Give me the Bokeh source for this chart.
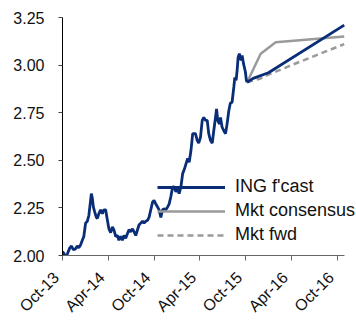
import math
import pandas as pd
from bokeh.plotting import figure
from bokeh.models import FixedTicker, Legend, LegendItem, Range1d, NumeralTickFormatter
from bokeh.embed import file_html
from bokeh.resources import INLINE

hist_dates = [
 "2013-10-01","2013-10-07","2013-10-13","2013-10-21","2013-10-30","2013-11-06","2013-11-13","2013-11-22",
 "2013-11-29","2013-12-05","2013-12-12","2013-12-19","2013-12-25","2014-01-01","2014-01-08","2014-01-14",
 "2014-01-18","2014-01-24","2014-01-28","2014-02-01","2014-02-06","2014-02-13","2014-02-17","2014-02-23",
 "2014-03-02","2014-03-09","2014-03-15","2014-03-22","2014-03-29","2014-04-04","2014-04-11","2014-04-18",
 "2014-04-24","2014-05-01","2014-05-08","2014-05-14","2014-05-21","2014-05-28","2014-06-03","2014-06-10",
 "2014-06-17","2014-06-23","2014-06-30","2014-07-07","2014-07-13","2014-07-20","2014-07-27","2014-08-02",
 "2014-08-09","2014-08-16","2014-08-22","2014-08-29","2014-09-05","2014-09-11","2014-09-18","2014-09-25",
 "2014-10-01","2014-10-08","2014-10-15","2014-10-21","2014-10-28","2014-11-04","2014-11-10","2014-11-17",
 "2014-11-24","2014-11-30","2014-12-07","2014-12-14","2014-12-20","2014-12-27","2015-01-03","2015-01-09",
 "2015-01-16","2015-01-23","2015-01-29","2015-02-05","2015-02-12","2015-02-18","2015-02-25","2015-03-04",
 "2015-03-10","2015-03-15","2015-03-22","2015-03-28","2015-04-04","2015-04-11","2015-04-17","2015-04-24",
 "2015-05-01","2015-05-07","2015-05-14","2015-05-21","2015-05-27","2015-06-03","2015-06-07","2015-06-12",
 "2015-06-19","2015-06-23","2015-06-29","2015-07-06","2015-07-13","2015-07-19","2015-07-26","2015-08-01",
 "2015-08-08","2015-08-15","2015-08-19","2015-08-24","2015-08-28","2015-09-01","2015-09-06","2015-09-13",
 "2015-09-17","2015-09-23","2015-09-30","2015-10-04","2015-10-07"]
hist_vals = [
 2.02,2.01,1.99,2.01,2.04,2.05,2.03,2.035,
 2.05,2.04,2.055,2.08,2.10,2.17,2.18,2.21,
 2.255,2.325,2.30,2.255,2.23,2.20,2.195,2.22,
 2.24,2.22,2.24,2.24,2.185,2.14,2.12,2.15,
 2.135,2.10,2.105,2.08,2.10,2.08,2.105,2.09,
 2.115,2.135,2.125,2.14,2.125,2.105,2.135,2.16,
 2.17,2.18,2.17,2.18,2.185,2.20,2.24,2.28,
 2.29,2.27,2.255,2.24,2.20,2.24,2.245,2.24,
 2.255,2.27,2.31,2.36,2.36,2.335,2.35,2.325,
 2.36,2.43,2.45,2.48,2.51,2.49,2.55,2.64,
 2.64,2.64,2.605,2.59,2.62,2.71,2.725,2.71,
 2.71,2.64,2.605,2.59,2.655,2.725,2.77,2.71,
 2.69,2.725,2.675,2.655,2.64,2.69,2.76,2.80,
 2.805,2.885,2.935,2.92,2.97,3.04,3.06,3.025,
 3.05,3.005,2.965,2.92,2.91]

ing_dates = ["2015-10-07", "2015-10-31", "2015-12-31", "2016-10-28"]
ing_vals = [2.91, 2.93, 2.96, 3.21]

cons_dates = ["2015-10-07", "2015-11-30", "2016-01-29", "2016-10-28"]
cons_vals = [2.91, 3.06, 3.12, 3.15]

fwd_dates = ["2015-10-07", "2015-11-30", "2015-12-31", "2016-04-01", "2016-10-28"]
fwd_vals = [2.91, 2.93, 2.95, 3.00, 3.11]

tick_dates = ["2013-10-01", "2014-04-01", "2014-10-01", "2015-04-01", "2015-10-01", "2016-04-01", "2016-10-01"]
tick_labels = ["Oct-13", "Apr-14", "Oct-14", "Apr-15", "Oct-15", "Apr-16", "Oct-16"]
y_ticks = [2.00, 2.25, 2.50, 2.75, 3.00, 3.25]

BLUE = "#0a2d78"
GREY = "#9a9a9a"
FONT = "Liberation Sans"

p = figure(width=356, height=334, x_axis_type="datetime", output_backend="svg",
           toolbar_location=None, min_border_left=62, min_border_right=0,
           min_border_top=17, min_border_bottom=79)
p.x_range = Range1d(pd.Timestamp("2013-10-01"), pd.Timestamp("2016-12-16"))
p.y_range = Range1d(2.0, 3.25)
p.outline_line_color = None
p.grid.visible = False
p.background_fill_color = "white"
p.border_fill_color = "white"

r_cons = p.line(pd.to_datetime(cons_dates), cons_vals, line_color=GREY, line_width=2.5)
r_fwd = p.line(pd.to_datetime(fwd_dates), fwd_vals, line_color=GREY, line_width=2.5, line_dash="6 4")
r_ing = p.line(pd.to_datetime(ing_dates), ing_vals, line_color=BLUE, line_width=2.8)
p.line(pd.to_datetime(hist_dates), hist_vals, line_color=BLUE, line_width=2.8)

tick_ms = [pd.Timestamp(d).value / 1e6 for d in tick_dates]
p.xaxis.bounds = (pd.Timestamp("2013-10-01"), pd.Timestamp("2016-10-28"))
p.xaxis.ticker = FixedTicker(ticks=tick_ms)
p.xaxis.major_label_overrides = {t: lab + "\u00a0\u00a0" for t, lab in zip(tick_ms, tick_labels)}
p.xaxis.major_label_orientation = math.pi / 4
p.xaxis.major_label_standoff = 8
p.xaxis.axis_line_color = "#666666"
p.xaxis.major_tick_line_color = "#666666"
p.xaxis.major_tick_out = 5
p.xaxis.major_tick_in = 0
p.xaxis.minor_tick_line_color = None

p.yaxis.ticker = FixedTicker(ticks=y_ticks)
p.yaxis.formatter = NumeralTickFormatter(format="0.00")
p.yaxis.axis_line_color = "black"
p.yaxis.major_tick_line_color = "#444444"
p.yaxis.major_tick_out = 4
p.yaxis.major_tick_in = 0
p.yaxis.minor_tick_line_color = None
p.yaxis.major_label_standoff = 14

for ax in (p.xaxis, p.yaxis):
    ax.major_label_text_font = FONT
    ax.major_label_text_font_size = "16px"
    ax.major_label_text_color = "#111111"

legend = Legend(items=[LegendItem(label="ING f'cast", renderers=[r_ing]),
                       LegendItem(label="Mkt consensus", renderers=[r_cons]),
                       LegendItem(label="Mkt fwd", renderers=[r_fwd])],
                location=(95, 10), glyph_width=68, glyph_height=20, label_height=20,
                spacing=3, padding=0, margin=0, label_standoff=10,
                border_line_color=None, background_fill_alpha=0,
                label_text_font=FONT, label_text_font_size="18px", label_text_color="#111111")
p.add_layout(legend, "center")

open("out.html", "w").write(file_html(p, INLINE))
